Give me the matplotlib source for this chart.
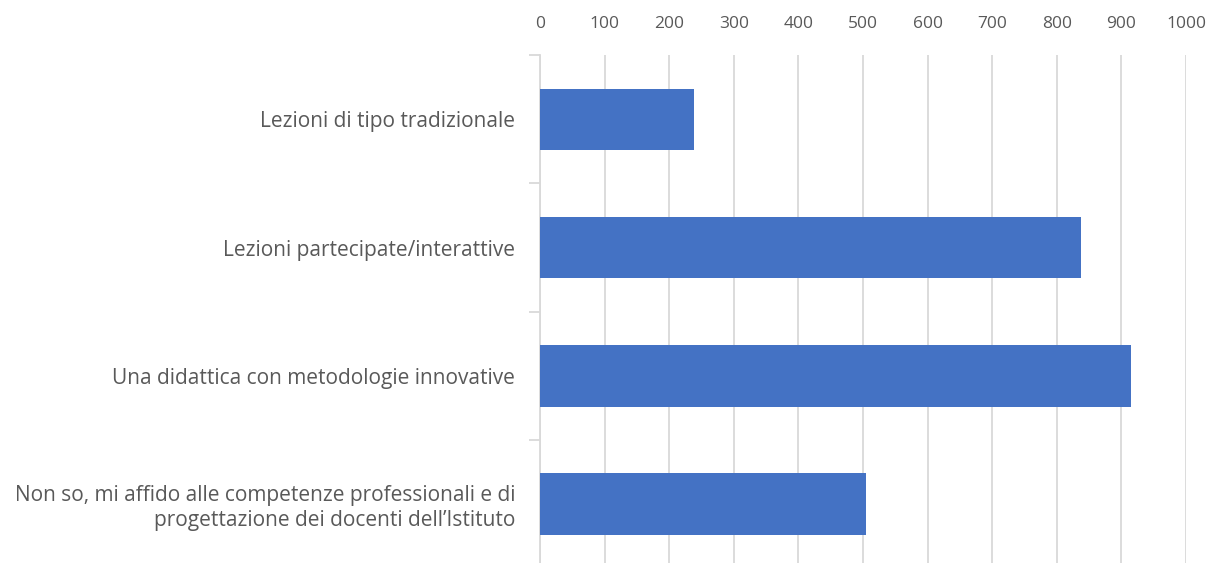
import matplotlib
matplotlib.use("Agg")
import matplotlib.pyplot as plt
from matplotlib.ticker import MultipleLocator

categories = [
    "Lezioni di tipo tradizionale",
    "Lezioni partecipate/interattive",
    "Una didattica con metodologie innovative",
    "Non so, mi affido alle competenze professionali e di\nprogettazione dei docenti dell\u2019Istituto",
]
values = [238, 837, 914, 505]

plt.rcParams['font.family'] = ['Open Sans', 'DejaVu Sans']
text_col = '#595959'
grid_col = '#d9d9d9'

fig = plt.figure(figsize=(12.19, 5.63), dpi=100)
ax = fig.add_axes([0.443, -0.009, 0.530, 0.911])

pos = list(range(len(categories)))
ax.barh(pos, values, height=0.48, color='#4472c4', zorder=3)

ax.set_xlim(0, 1000)
ax.set_ylim(len(categories) - 0.5, -0.5)
ax.xaxis.set_major_locator(MultipleLocator(100))
ax.xaxis.tick_top()
ax.grid(axis='x', color=grid_col, linewidth=1.3, zorder=0)

ax.set_yticks(pos)
ax.set_yticklabels(categories, fontsize=15, color=text_col, linespacing=1.2)
ax.set_yticks([p - 0.5 for p in pos] + [len(categories) - 0.5], minor=True)
ax.tick_params(axis='y', which='major', length=0, pad=18)
ax.tick_params(axis='y', which='minor', length=8, color=grid_col, width=1.3)
ax.tick_params(axis='x', length=0, labelsize=12.5, labelcolor=text_col, pad=17)

for side in ['top', 'right', 'bottom']:
    ax.spines[side].set_visible(False)
ax.spines['left'].set_color(grid_col)
ax.spines['left'].set_linewidth(1.3)

fig.savefig("out.png", dpi=100)
